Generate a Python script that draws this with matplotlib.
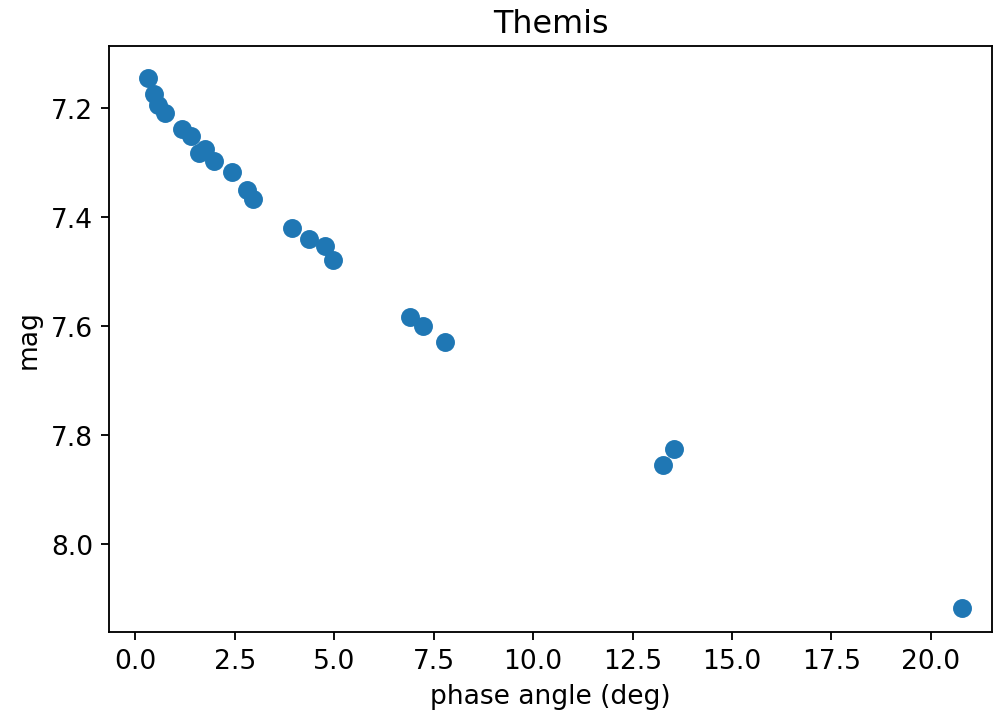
import matplotlib
matplotlib.use("Agg")
import matplotlib.pyplot as plt

# phase angle (deg) and reduced magnitude for Themis
phase = [0.33, 0.46, 0.57, 0.74, 1.17, 1.40, 1.61, 1.76, 1.99, 2.43, 2.81, 2.96,
         3.95, 4.36, 4.77, 4.98, 6.91, 7.24, 7.79, 13.27, 13.55, 20.79]
mag = [7.144, 7.174, 7.195, 7.209, 7.238, 7.251, 7.282, 7.275, 7.297, 7.317, 7.351, 7.366,
       7.420, 7.440, 7.452, 7.478, 7.584, 7.599, 7.629, 7.855, 7.826, 8.116]

plt.rcParams["font.size"] = 11.5

fig = plt.figure(figsize=(6, 4.348), dpi=165.8)
ax = fig.add_axes([0.110, 0.122, 0.887, 0.813])
ax.scatter(phase, mag, s=52, color="#1f77b4")
ax.set_xlim(-0.65, 21.53)
ax.set_ylim(8.161, 7.086)
ax.set_xticks([0, 2.5, 5, 7.5, 10, 12.5, 15, 17.5, 20])
ax.set_yticks([7.2, 7.4, 7.6, 7.8, 8.0])
ax.set_xlabel("phase angle (deg)")
ax.set_ylabel("mag")
ax.set_title("Themis")
fig.savefig("out.png", dpi=165.8)
